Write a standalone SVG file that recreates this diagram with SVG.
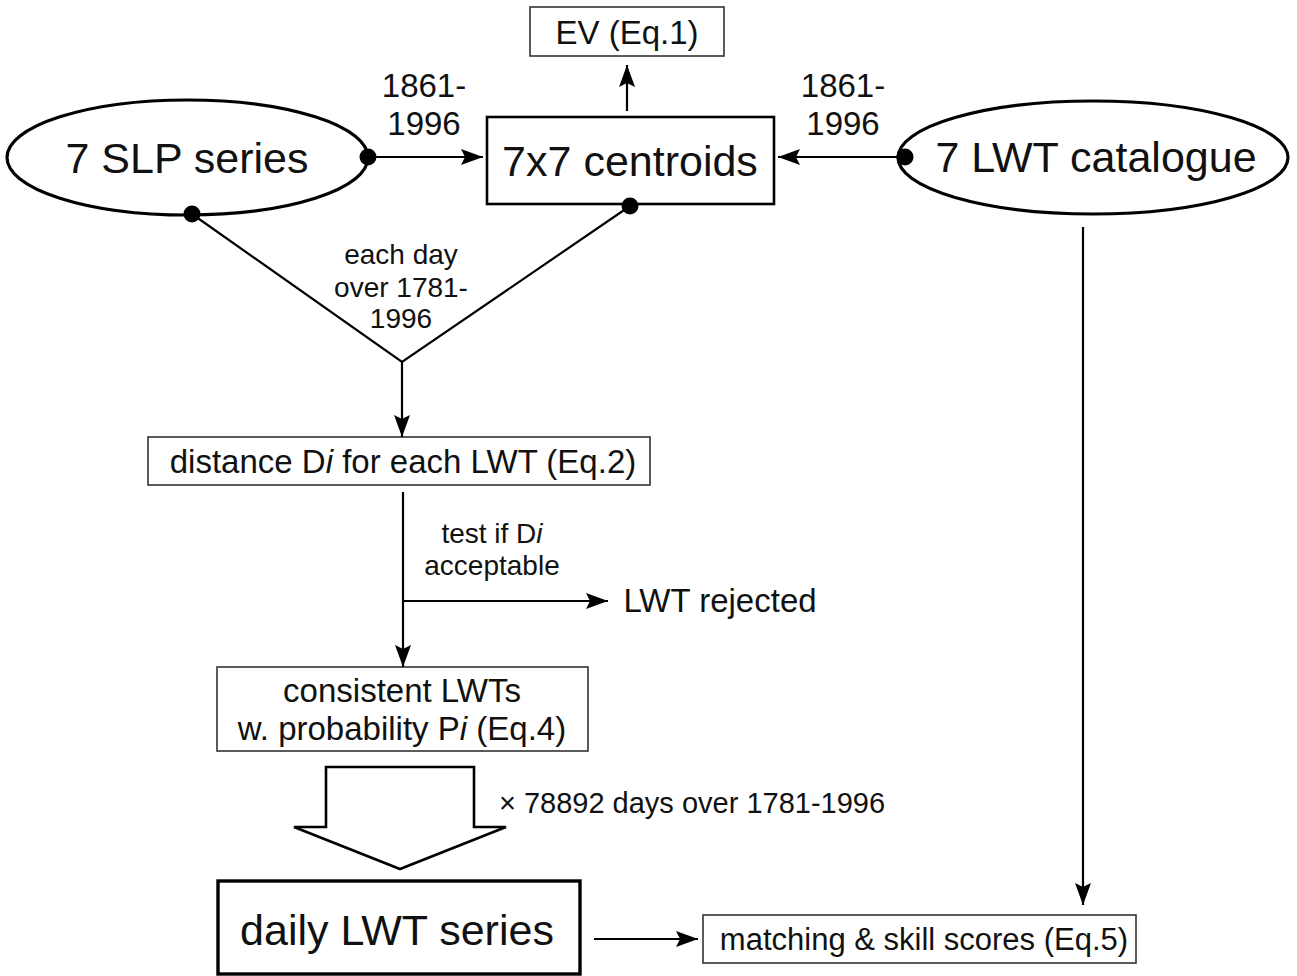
<svg xmlns="http://www.w3.org/2000/svg" width="1297" height="976" viewBox="0 0 1297 976">
<defs>
<style>
text{font-family:"Liberation Sans",Arial,sans-serif;fill:#111;text-anchor:middle}
.big{font-size:43px}
.med{font-size:33px}
.sm{font-size:28px}
.ell{fill:#fff;stroke:#000;stroke-width:3.2}
.thin{fill:#fff;stroke:#333;stroke-width:1.6}
.thick{fill:#fff;stroke:#000;stroke-width:2.6}
.ln{fill:none;stroke:#000;stroke-width:2.2}
.dot{fill:#000}
</style>
<marker id="ah" viewBox="0 0 22 16" refX="22" refY="8" markerWidth="22" markerHeight="16" markerUnits="userSpaceOnUse" orient="auto">
<path d="M0,0 L22,8 L0,16 L4,8 Z" fill="#000"/>
</marker>
</defs>

<g id="slp">
<ellipse class="ell" cx="187.5" cy="157.5" rx="180.5" ry="57.5"/>
<text class="big" x="187" y="173">7 SLP series</text>
</g>

<g id="centroids">
<rect class="thick" x="487" y="117" width="287" height="87"/>
<text class="big" x="630" y="176">7x7 centroids</text>
</g>

<g id="ev">
<rect class="thin" x="530" y="7" width="194" height="49"/>
<text class="med" x="627" y="44">EV (Eq.1)</text>
</g>

<g id="lwt">
<ellipse class="ell" cx="1093" cy="157.5" rx="195" ry="56.5"/>
<text class="big" x="1096" y="172">7 LWT catalogue</text>
</g>

<g id="distance">
<rect class="thin" x="148" y="437" width="502" height="48"/>
<text class="med" x="403" y="473">distance D<tspan font-style="italic">i</tspan> for each LWT (Eq.2)</text>
</g>

<g id="consistent">
<rect class="thin" x="217" y="667" width="371" height="84"/>
<text class="med" x="402" y="702">consistent LWTs</text>
<text class="med" x="402" y="740">w. probability P<tspan font-style="italic">i</tspan> (Eq.4)</text>
</g>

<g id="daily">
<rect x="218" y="881" width="362" height="93" fill="#fff" stroke="#000" stroke-width="3.4"/>
<text class="big" x="397" y="945">daily LWT series</text>
</g>

<g id="matching">
<rect class="thin" x="703" y="915" width="433" height="48"/>
<text x="924" y="950" style="font-size:31px">matching &amp; skill scores (Eq.5)</text>
</g>

<g id="connectors">
<line class="ln" x1="368" y1="157" x2="483" y2="157" marker-end="url(#ah)"/>
<line class="ln" x1="905" y1="157" x2="778" y2="157" marker-end="url(#ah)"/>
<line class="ln" x1="627" y1="111" x2="627" y2="65" marker-end="url(#ah)"/>
<polyline class="ln" points="192,214 402,362 630,206"/>
<line class="ln" x1="402" y1="362" x2="402" y2="437" marker-end="url(#ah)"/>
<line class="ln" x1="403" y1="492" x2="403" y2="667" marker-end="url(#ah)"/>
<line class="ln" x1="403" y1="601" x2="608" y2="601" marker-end="url(#ah)"/>
<line class="ln" x1="1083" y1="227" x2="1083" y2="905" marker-end="url(#ah)"/>
<line class="ln" x1="594" y1="939" x2="698" y2="939" marker-end="url(#ah)"/>
<path id="block-arrow" d="M326,767 L474,767 L474,827 L506,827 L400,869 L294,827 L326,827 Z" fill="#fff" stroke="#000" stroke-width="2.6" stroke-linejoin="miter"/>
<circle class="dot" cx="368" cy="157" r="8.5"/>
<circle class="dot" cx="905" cy="157" r="8.5"/>
<circle class="dot" cx="192" cy="214" r="8.5"/>
<circle class="dot" cx="630" cy="206" r="8.5"/>
<text class="med" x="424" y="97">1861-</text>
<text class="med" x="424" y="135">1996</text>
<text class="med" x="843" y="97">1861-</text>
<text class="med" x="843" y="135">1996</text>
<text class="sm" x="401" y="264">each day</text>
<text class="sm" x="401" y="297">over 1781-</text>
<text class="sm" x="401" y="328">1996</text>
<text class="sm" x="492" y="543">test if D<tspan font-style="italic">i</tspan></text>
<text class="sm" x="492" y="575">acceptable</text>
<text class="med" x="720" y="612">LWT rejected</text>
<text x="692" y="813" style="font-size:29px">× 78892 days over 1781-1996</text>
</g>
</svg>
